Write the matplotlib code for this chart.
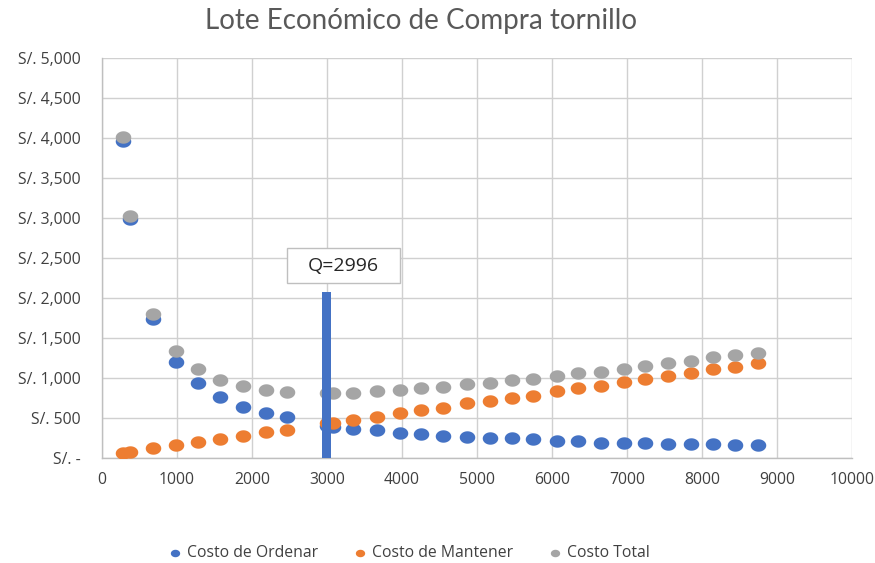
import matplotlib
matplotlib.use("Agg")
import matplotlib.pyplot as plt
import numpy as np
from matplotlib.path import Path
from matplotlib.patches import Rectangle
from matplotlib.ticker import FuncFormatter, MultipleLocator

# ---- data ----
cantidad = [275, 373, 676, 982, 1284, 1573, 1876, 2182, 2462, 2996, 3084, 3351,
            3662, 3973, 4253, 4551, 4862, 5173, 5462, 5751, 6071, 6351, 6653,
            6960, 7240, 7551, 7849, 8142, 8440, 8751]
costo_ordenar = [3962, 2983, 1733, 1204, 942, 767, 642, 567, 508, 405, 392, 362,
                 350, 317, 296, 275, 258, 246, 246, 233, 217, 217, 192,
                 192, 192, 175, 175, 175, 158, 158]
costo_mantener = [58, 79, 129, 158, 196, 233, 279, 321, 350, 435, 442, 475,
                  508, 567, 600, 629, 683, 717, 746, 779, 837, 871, 904,
                  954, 990, 1025, 1058, 1108, 1142, 1183]
costo_total = [4009, 3025, 1800, 1342, 1112, 975, 904, 850, 829, 817, 817, 817,
               837, 850, 871, 892, 925, 942, 975, 987, 1025, 1067, 1079,
               1112, 1156, 1192, 1217, 1258, 1287, 1317]
eoq = 2996
eoq_bar_height = 2080
eoq_label = "Q=2996"
titulo = "Lote Económico de Compra tornillo"
series_names = ["Costo de Ordenar", "Costo de Mantener", "Costo Total"]
series_colors = ["#4472C4", "#ED7D31", "#A5A5A5"]

# ---- figure ----
W, H = 875, 563
fig = plt.figure(figsize=(W / 100, H / 100), dpi=100)
ax = fig.add_axes([102 / W, 1 - 458 / H, 750 / W, 400 / H])

# elliptical marker (slightly wider than tall, as in the reference)
t = np.linspace(0, 2 * np.pi, 60)
ell = Path(np.column_stack([np.cos(t), 0.8 * np.sin(t)]), closed=True)

for vals, name, col in zip([costo_ordenar, costo_mantener, costo_total],
                           series_names, series_colors):
    ax.scatter(cantidad, vals, s=125, marker=ell, color=col, label=name,
               zorder=3, linewidths=0)

ax.bar([eoq], [eoq_bar_height], width=125, color="#4472C4", zorder=4)

ax.set_xlim(0, 10000)
ax.set_ylim(0, 5000)
ax.xaxis.set_major_locator(MultipleLocator(1000))
ax.yaxis.set_major_locator(MultipleLocator(500))


def fmt_y(v, pos):
    if v == 0:
        return "S/. -"
    return "S/. {:,.0f}".format(v)


ax.yaxis.set_major_formatter(FuncFormatter(fmt_y))
ax.xaxis.set_major_formatter(FuncFormatter(lambda v, p: "{:.0f}".format(v)))

ax.grid(True, color="#D0D0D0", linewidth=1.0, zorder=0)
ax.set_axisbelow(True)
for s in ["top", "right"]:
    ax.spines[s].set_visible(False)
for s in ["left", "bottom"]:
    ax.spines[s].set_color("#BFBFBF")
    ax.spines[s].set_linewidth(1.0)

ax.tick_params(axis="both", length=0, labelsize=11.3, colors="#404040")
ax.tick_params(axis="y", pad=15.5)
ax.tick_params(axis="x", pad=10)
for lab in ax.get_xticklabels() + ax.get_yticklabels():
    lab.set_fontfamily("Open Sans")

# label box for EOQ
bx0, bx1 = (287 - 102) / 750 * 10000, (400 - 102) / 750 * 10000
by0, by1 = (458 - 283) / 400 * 5000, (458 - 248) / 400 * 5000
ax.add_patch(Rectangle((bx0, by0), bx1 - bx0, by1 - by0, facecolor="white",
                       edgecolor="#BFBFBF", linewidth=1.0, zorder=5))
ax.text((bx0 + bx1) / 2, (by0 + by1) / 2, eoq_label, ha="center", va="center",
        fontsize=14, color="#262626", family="Open Sans", zorder=6)

fig.text(0.481, 1 - 21 / H, titulo, ha="center", va="center", fontsize=20,
         color="#595959", family="Lato")

leg = fig.legend(loc="center", bbox_to_anchor=(0.466, 1 - 553 / H), ncol=3,
                 frameon=False, prop={"family": "Open Sans", "size": 11.3},
                 handletextpad=0.15, columnspacing=2.1, markerscale=0.6,
                 handlelength=1.2)
for txt in leg.get_texts():
    txt.set_color("#404040")

fig.savefig("out.png", dpi=100)
